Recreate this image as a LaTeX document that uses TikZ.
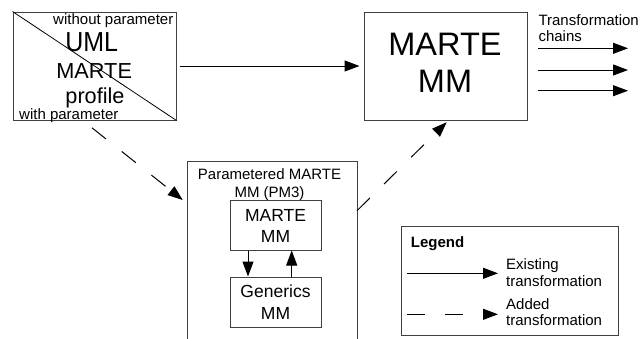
\documentclass[tikz,border=0pt]{standalone}
\usepackage{fontspec}
\usepackage{graphicx}
\setmainfont{Liberation Sans}
\usetikzlibrary{arrows.meta}
\begin{document}
\begin{tikzpicture}[x=1pt,y=-1pt,
  box/.style={draw=black!75, line width=1pt, inner sep=0pt},
  arr/.style={-{Triangle[length=15pt,width=11pt]}, line width=1pt, black},
  dasharr/.style={arr, dash pattern=on 18pt off 20pt},
  txt/.style={inner sep=0pt, font=\fontsize{15}{17}\selectfont},
  txtb/.style={inner sep=0pt, font=\fontsize{15}{17}\selectfont\bfseries},
  mid/.style={inner sep=0pt, font=\fontsize{17.5}{21}\selectfont},
  large/.style={inner sep=0pt, font=\fontsize{21.7}{26}\selectfont},
  tall/.style={inner sep=0pt, font=\fontsize{25}{29}\selectfont},
  huge/.style={inner sep=0pt, font=\fontsize{32.5}{38}\selectfont},
]
\useasboundingbox (0,0) rectangle (640,338);

% UML MARTE profile box
\node[box, minimum width=163pt, minimum height=108pt] (uml) at (94.5,66) {};
\draw[line width=0.8pt] (uml.north west) -- (uml.south east);
\node[txt, anchor=base east] (wo) at (173.5,24.5) {without parameter};
\node[tall, anchor=base] (umlA) at (91.7,51) {\scalebox{1}[1.1]{UML}};
\node[large, anchor=base] (umlB) at (94.2,78.3) {MARTE};
\node[large, anchor=base] (umlC) at (95,103.3) {profile};
\node[txt, anchor=base west] (wi) at (19,119) {with parameter};

% MARTE MM box
\node[box, minimum width=163pt, minimum height=108pt] (marte) at (445.5,66) {};
\node[huge, anchor=base] (marteA) at (445,55.5) {MARTE};
\node[huge, anchor=base] (marteB) at (445,92.8) {MM};

% Transformation chains
\node[txt, anchor=base west] (tcA) at (538.3,25) {Transformation};
\node[txt, anchor=base west] (tcB) at (538.3,41.7) {chains};
\coordinate (c1s) at (538,48.3); \coordinate (c1e) at (628,48.3);
\coordinate (c2s) at (538,70);   \coordinate (c2e) at (628,70);
\coordinate (c3s) at (538,90.7); \coordinate (c3e) at (628,90.7);
\draw[arr] (c1s) -- (c1e);
\draw[arr] (c2s) -- (c2e);
\draw[arr] (c3s) -- (c3e);

% Existing transformation
\draw[arr, shorten <=3pt, shorten >=4pt] (uml) -- (marte);

% PM3 box (open at the bottom)
\coordinate (pm3sw) at (187,340);
\coordinate (pm3nw) at (187,161);
\coordinate (pm3ne) at (357,161);
\coordinate (pm3se) at (357,340);
\draw[draw=black!75, line width=1pt] (pm3sw) -- (pm3nw) -- (pm3ne) -- (pm3se);
\node[txt, anchor=base] (pmA) at (269.5,179.5) {Parametered MARTE};
\node[txt, anchor=base] (pmB) at (269.5,197.7) {MM (PM3)};

% inner boxes
\node[box, minimum width=91pt, minimum height=50pt] (im) at (275.5,225) {};
\node[mid, anchor=base] (imA) at (275.5,221.7) {MARTE};
\node[mid, anchor=base] (imB) at (275.5,242.7) {MM};
\node[box, minimum width=91pt, minimum height=50pt] (gm) at (275.5,302) {};
\node[mid, anchor=base] (gmA) at (275.5,297.7) {Generics};
\node[mid, anchor=base] (gmB) at (275.5,319) {MM};
\draw[arr] (im.south -| 248,0) -- (gm.north -| 248,0);
\draw[arr] (gm.north -| 291.7,0) -- (im.south -| 291.7,0);

% Added transformations
\draw[dasharr] ([shift={(-2.5,7.3)}]uml.south) -- ([shift={(-4.3,39)}]pm3nw);
\draw[dasharr] ([shift={(0,49.7)}]pm3ne) -- ([shift={(1.2,1.7)}]marte.south);

% Legend
\node[box, minimum width=217pt, minimum height=108.5pt] (legend) at (509.5,280.75) {};
\node[txtb, anchor=base west] (lgT) at (410.7,247.5) {Legend};
\coordinate (l1s) at (407,273.3); \coordinate (l1e) at (498,273.3);
\coordinate (l2s) at (407,314.3); \coordinate (l2e) at (498,314.3);
\draw[arr] (l1s) -- (l1e);
\draw[dasharr] (l2s) -- (l2e);
\node[txt, anchor=base west] (lgA) at (506,269.5) {Existing};
\node[txt, anchor=base west] (lgB) at (506,286) {transformation};
\node[txt, anchor=base west] (lgC) at (506,309.5) {Added};
\node[txt, anchor=base west] (lgD) at (506,325.5) {transformation};
\end{tikzpicture}
\end{document}
